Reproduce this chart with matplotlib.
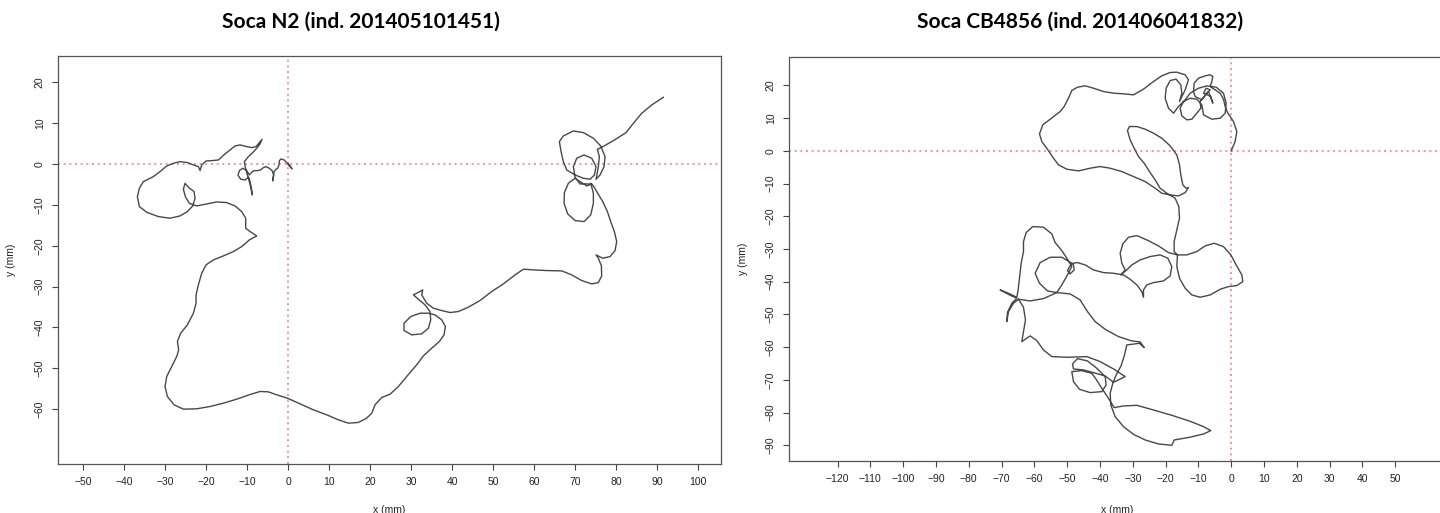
import matplotlib.pyplot as plt

# N2 track, positions in mm
n2_x = [0.1, 0.65, 0.98, 0.33, -0.33, -0.98, -1.71, -2.11, -2.2, -2.52, -2.93, -3.41, -3.58, -3.74, -3.5, -3.9,
        -4.55, -5.37, -6.02, -6.67, -7.48, -8.29, -8.94, -9.43, -10.08, -11.06, -11.87, -12.2, -11.54, -10.49,
        -9.59, -9.27, -8.94, -8.7, -9.11, -9.59, -10.08, -10.49, -10.65, -9.67, -8.62, -7.64, -6.83, -6.34,
        -6.99, -7.8, -8.86, -10.08, -11.71, -12.93, -14.15, -15.37, -16.99, -18.62, -20.0, -21.06, -21.46,
        -21.87, -23.09, -24.55, -26.34, -27.97, -29.59, -31.22, -32.85, -35.28, -36.26, -36.75, -36.26, -34.47,
        -31.63, -28.78, -26.34, -24.55, -23.25, -22.68, -22.93, -24.31, -25.12, -25.53, -25.04, -24.07, -22.28,
        -19.84, -17.4, -14.96, -12.93, -11.3, -10.33, -10.33, -9.27, -7.64, -9.43, -11.3, -13.33, -15.77,
        -18.21, -20.0, -21.06, -21.87, -22.44, -22.44, -23.09, -24.55, -26.18, -26.99, -26.67, -27.15, -28.37,
        -29.59, -30.0, -29.43, -27.8, -25.53, -22.28, -19.02, -15.77, -12.52, -9.27, -6.83, -4.8, -2.76, -0.16,
        2.93, 6.18, 9.43, 12.28, 14.72, 17.15, 19.19, 20.41, 21.22, 22.85, 24.88, 26.91,
        28.94, 31.38, 33.01, 35.04, 36.91, 38.05, 38.37, 37.48, 35.85, 34.23, 32.2, 29.92, 28.29, 28.29, 30.16,
        32.6, 34.23, 34.8, 34.63, 33.41, 31.79, 30.57, 31.38, 32.85, 32.6, 33.82, 35.45, 37.48, 39.51, 41.54,
        43.98, 46.83, 49.67, 52.52, 55.37, 57.4, 59.84, 63.09, 66.75, 69.19, 71.63, 74.07, 75.69, 76.5, 76.42,
        75.69, 75.12, 76.75, 78.54, 79.76, 80.16, 79.59, 78.7, 77.89, 76.75, 75.45, 74.47, 73.82, 74.47, 74.47,
        73.82, 72.2, 70.0, 68.21, 67.32, 67.4, 68.37, 70.0, 71.63, 72.85, 74.07, 71.22, 70.0, 69.59, 70.41,
        72.2, 74.07, 75.12, 74.72, 73.66, 72.03, 70.0, 67.97, 67.15, 66.59, 66.18, 67.15, 69.59, 72.03, 74.47,
        76.26, 77.32, 77.07, 76.1, 75.12, 75.69, 75.93, 75.45, 76.5, 79.35, 82.44, 84.23, 86.26, 88.7, 91.54]
n2_y = [0.0, -0.65, -1.22, -0.49, 0.33, 0.98, 1.22, 0.81, -0.24, -1.06, -1.3, -1.87, -3.1, -4.16, -2.69, -1.63,
        -1.06, -0.65, -0.9, -1.47, -1.63, -1.63, -2.12, -2.69, -1.63, -1.06, -1.63, -2.77, -3.75, -3.91,
        -3.26, -4.32, -5.95, -7.58, -5.7, -3.75, -2.12, -0.49, 0.57, 1.79, 2.77, 3.83, 4.89, 6.03,
        5.22, 4.24, 3.99, 4.24, 4.65, 4.4, 3.42, 2.44, 0.98, 0.81, 0.73, -0.24, -1.63,
        -0.65, -0.24, 0.33, 0.57, 0.16, -0.49, -1.87, -3.1, -4.32, -5.95, -7.99, -10.43, -11.82,
        -12.88, -13.28, -12.71, -11.65, -10.27, -8.39, -6.76, -5.7, -4.73, -6.19, -7.99, -9.62, -10.27,
        -9.78, -9.29, -9.45, -10.27, -11.65, -13.28, -15.73, -16.54, -17.6, -18.58, -20.21, -21.43, -22.49,
        -23.47, -24.69, -26.73, -29.58, -32.03, -34.07, -36.51, -39.36, -41.4, -43.44, -45.48, -47.11, -49.55,
        -52.0, -54.44, -56.89, -58.92, -59.98, -59.9, -59.33, -58.52, -57.54, -56.4, -55.66, -55.75, -56.48, -57.29,
        -58.68, -60.15, -61.37, -62.59, -63.41, -63.24, -62.18, -60.96, -58.92, -57.13, -56.32, -54.44,
        -52.0, -49.14, -46.94, -45.07, -43.44, -41.81, -39.77, -38.14, -36.92, -36.51, -36.51, -37.33, -38.96, -40.75, -41.81,
        -41.56, -40.18, -38.14, -36.1, -34.47, -33.09, -32.03, -31.62, -30.81, -32.03, -34.07, -35.29, -35.86, -36.35, -36.1,
        -35.04, -33.41, -31.21, -29.34, -27.14, -25.75, -25.92, -26.08, -26.16, -27.14, -28.52, -29.34, -29.01, -27.38, -24.94,
        -23.06, -22.25, -23.06, -22.66, -21.19, -18.99, -16.54, -14.1, -11.65, -9.21, -7.01, -5.38, -4.73, -7.17, -9.62,
        -12.47, -14.1, -13.85, -12.22, -9.62, -7.01, -4.73, -3.5, -4.56, -5.38, -4.89, -4.89, -3.26, -0.65, 1.39,
        2.2, 1.39, -0.65, -2.69, -3.75, -3.5, -2.69, -1.47, 0.57, 3.02, 5.46, 6.85, 8.07, 7.66, 6.28,
        4.4, 1.79, -0.65, -2.69, -3.75, -0.65, 1.79, 3.59, 4.07, 5.7, 7.66, 9.94, 12.39, 14.43, 16.3]

# CB4856 track, positions in mm
cb_x = [0.0, 1.22, 1.73, 0.71, -1.12, -1.83, -2.34, -3.35, -5.18, -6.4, -5.89, -5.59, -6.4, -7.93, -9.96,
        -11.28, -11.48, -10.98, -8.94, -7.42, -6.4, -7.62, -8.43, -6.2, -5.59, -6.91, -8.23, -9.45, -9.25,
        -10.47, -11.99, -13.52, -15.04, -15.55, -14.53, -12.5, -10.47, -8.94, -8.43, -5.89, -3.35, -1.83,
        -1.52, -2.34, -4.57, -7.42, -9.96, -12.5, -14.02, -16.06, -17.58, -19.11, -20.12, -19.82, -18.6,
        -16.77, -15.35, -15.04, -15.75, -14.02, -13.01, -14.02, -16.57, -18.6, -21.14, -23.68, -26.73, -29.78,
        -32.83, -35.87, -38.92, -41.97, -44.51, -46.85, -48.58, -49.59, -50.91, -52.13, -55.18, -57.42, -58.43,
        -57.72, -56.0, -54.37, -52.64, -50.1, -46.54, -42.99, -39.94, -36.89, -33.33, -29.78, -26.22, -23.17,
        -21.14, -18.6, -16.06, -14.02, -13.01, -13.72, -14.74, -15.35, -15.75, -16.57, -18.6, -21.14, -23.68,
        -26.22, -28.76, -31.0, -31.61, -30.79, -29.57, -28.25, -26.52, -24.9, -23.17, -21.65, -19.61, -17.07,
        -15.96, -15.75, -16.57, -17.38, -17.38,
        -16.36, -13.52, -10.47, -7.93, -5.18, -2.34, -0.1, 1.52, 3.25, 3.56, 1.73, -0.81, -3.35, -6.4, -9.45,
        -11.99, -14.02, -15.75, -16.57, -16.36, -19.11, -22.15, -25.71, -28.76, -31.3, -33.03, -33.84, -33.33,
        -32.32, -33.64, -31.81, -30.28, -27.74, -24.7, -21.65, -19.31, -18.09, -18.6, -20.63, -23.68, -25.71,
        -26.73, -26.73, -27.24, -28.76, -30.79, -32.83, -35.87, -38.92, -41.97, -44.51, -46.85, -48.27, -49.29,
        -49.9, -49.09, -47.87, -48.07, -48.58, -51.63, -55.18, -58.23, -59.76, -58.43, -56.0, -53.15, -51.63,
        -49.9, -48.58, -49.9, -51.63, -53.66, -54.67, -57.22, -60.47, -62.5, -63.31, -63.31, -64.02, -64.53,
        -64.94, -65.35, -67.89, -70.43, -67.58, -65.35, -66.87, -68.19, -68.39, -67.89, -66.36, -64.84,
        -61.28, -57.22, -53.15, -49.09, -46.04, -43.8, -41.46, -38.41, -34.35, -30.28, -27.74, -26.52, -27.95,
        -31.81, -32.52, -33.54, -35.06, -36.08, -36.89, -36.69, -35.37, -32.83, -29.78, -26.22, -22.15, -18.09,
        -17.38, -12.7, -8.43, -6.2, -8.43, -12.5, -18.09, -23.68, -28.76, -32.83, -35.67, -37.4, -39.43, -41.16,
        -42.48, -45.53, -48.58, -48.07, -46.24, -42.99, -39.43, -38.11, -38.41, -40.96, -43.8, -46.85, -48.37,
        -48.07, -45.02, -41.97, -38.41, -35.87, -32.32, -35.67, -39.94, -44.0, -50.1, -54.67, -57.22, -59.25,
        -61.28, -63.82, -63.31, -62.7, -63.31, -64.84]
cb_y = [0.0, 2.85, 5.91, 8.97, 11.72, 13.56, 15.8, 17.64, 18.86, 19.67, 21.2, 22.73, 23.24, 22.94, 22.22,
        20.69, 18.14, 16.62, 15.6, 17.64, 18.65, 19.16, 17.64, 16.62, 14.58, 18.14, 16.62, 15.09, 13.05,
        11.52, 9.68, 9.48, 10.7, 13.05, 15.09, 16.11, 15.8, 14.07, 11.01, 9.68, 9.99, 11.52,
        14.58, 17.64, 19.47, 19.88, 19.16, 17.64, 15.6, 13.56, 11.52, 13.05, 16.11, 19.16, 21.51,
        21.92, 20.18, 17.64, 15.09, 18.65, 21.71, 23.24, 24.06, 23.96, 22.94, 21.2, 18.86, 17.13,
        17.43, 17.64, 18.14, 19.16, 19.88, 19.47, 18.45, 16.11, 13.56, 12.03, 9.68, 7.95, 5.2,
        2.85, 0.51, -1.94, -4.28, -5.61, -6.12, -5.3, -4.79, -5.3, -6.32, -7.85, -9.38, -11.42,
        -12.95, -13.46, -13.76, -12.74, -11.21, -11.42, -10.4, -7.34, -4.28, -1.22, 1.53, 3.87, 5.4,
        6.63, 7.44, 7.44, 6.22, 3.36, 0.82, -1.73, -3.77, -6.32, -8.87, -11.42, -12.95, -14.48,
        -17.02, -20.59, -24.16, -27.73, -30.78,
        -31.8, -31.8, -30.78, -29.05, -28.24, -29.26, -31.8, -34.86, -37.92, -39.96, -41.18, -41.49, -42.3, -44.04, -44.75,
        -44.04, -42.0, -38.94, -35.37, -31.8, -31.09, -29.05, -27.22, -25.89, -26.4, -28.44, -31.3, -34.35,
        -36.39, -37.92, -36.39, -34.86, -33.33, -32.31, -31.8, -32.82, -35.37, -38.23, -39.76, -40.27, -40.98,
        -42.51, -44.75, -43.02, -40.98, -39.25, -37.92, -37.41, -37.21, -36.39, -34.86, -34.15, -34.35, -35.37,
        -36.6, -37.61, -36.39, -34.86, -34.35, -32.52, -32.52, -34.15, -37.41, -40.47, -42.81, -43.32, -40.98,
        -37.92, -35.37, -33.13, -30.48, -28.03, -25.38, -23.34, -23.14, -24.97, -27.73, -30.78, -34.35, -38.94,
        -42.51, -44.75, -43.53, -42.51, -44.04, -45.06, -46.59, -49.44, -52.19, -49.13, -46.59, -45.36,
        -45.87, -45.16, -43.32, -43.73, -45.57, -49.13, -52.19, -54.54, -56.78, -58.1, -58.41, -60.14, -58.82,
        -59.33, -62.39, -65.65, -68.5, -71.05, -74.11, -77.68, -81.24, -84.3, -86.65, -88.38, -89.6, -90.01,
        -88.38, -87.56, -86.54, -85.52, -84.3, -82.67, -80.84, -79.21, -77.78, -77.98, -78.49, -75.64, -72.58, -69.83,
        -67.99, -67.18, -67.48, -70.54, -72.89, -73.9, -73.6, -71.56, -69.01, -66.46, -64.22, -63.51, -65.14,
        -66.67, -66.97, -67.79, -68.81, -70.74, -69.01, -66.77, -64.42, -62.89, -63.1, -62.89, -60.85, -58.0,
        -56.57, -58.31, -55.25, -51.68, -47.81, -45.36]

titles = ['Soca N2 (ind. 201405101451)', 'Soca CB4856 (ind. 201406041832)']
n2_xticks = list(range(-50, 101, 10))
n2_yticks = list(range(-60, 21, 10))
cb_xticks = list(range(-120, 51, 10))
cb_yticks = list(range(-90, 21, 10))

plt.rcParams['font.family'] = ['Liberation Sans', 'DejaVu Sans']

fig = plt.figure(figsize=(14.4, 5.13), dpi=100)
ax1 = fig.add_axes([0.0403, 0.0955, 0.4604, 0.7953])
ax2 = fig.add_axes([0.5479, 0.1014, 0.4556, 0.7875])


def track_panel(ax, xs, ys, xticks, yticks, xlim, ylim, xlab_y):
    # dotted cross through the starting point
    ax.axhline(0, color='#ff8080', lw=1.2, ls=(0, (1.2, 2.2)), zorder=1)
    ax.axvline(0, color='#ff8080', lw=1.2, ls=(0, (1.2, 2.2)), zorder=1)
    ax.plot(xs, ys, color='#484848', lw=1.0, zorder=2)
    ax.set_xlim(xlim)
    ax.set_ylim(ylim)
    ax.set_xticks(xticks)
    ax.set_yticks(yticks)
    ax.tick_params(direction='out', length=4.5, width=0.8, color='#444444',
                   labelsize=7.5, labelcolor='#222222', pad=5)
    ax.tick_params(axis='y', labelrotation=90)
    for lab in ax.get_yticklabels():
        lab.set_va('center')
    for sp in ax.spines.values():
        sp.set_color('#555555')
        sp.set_linewidth(0.9)
    ax.set_xlabel('x (mm)', fontsize=7.5, color='#222222')
    ax.set_ylabel('y (mm)', fontsize=7.5, color='#222222')
    ax.xaxis.set_label_coords(0.5, xlab_y)
    ax.yaxis.set_label_coords(-0.063, 0.5)


track_panel(ax1, n2_x, n2_y, n2_xticks, n2_yticks, (-56.1, 105.6), (-73.4, 26.4), -0.10)
track_panel(ax2, cb_x, cb_y, cb_xticks, cb_yticks, (-134.8, 65.2), (-94.8, 28.7), -0.109)

fig.text(361 / 1440, 1 - 22 / 513, titles[0], ha='center', va='center',
         fontsize=15, fontweight='bold', family='Lato')
fig.text(1080 / 1440, 1 - 22 / 513, titles[1], ha='center', va='center',
         fontsize=15, fontweight='bold', family='Lato')

fig.savefig('out.png', dpi=100)
